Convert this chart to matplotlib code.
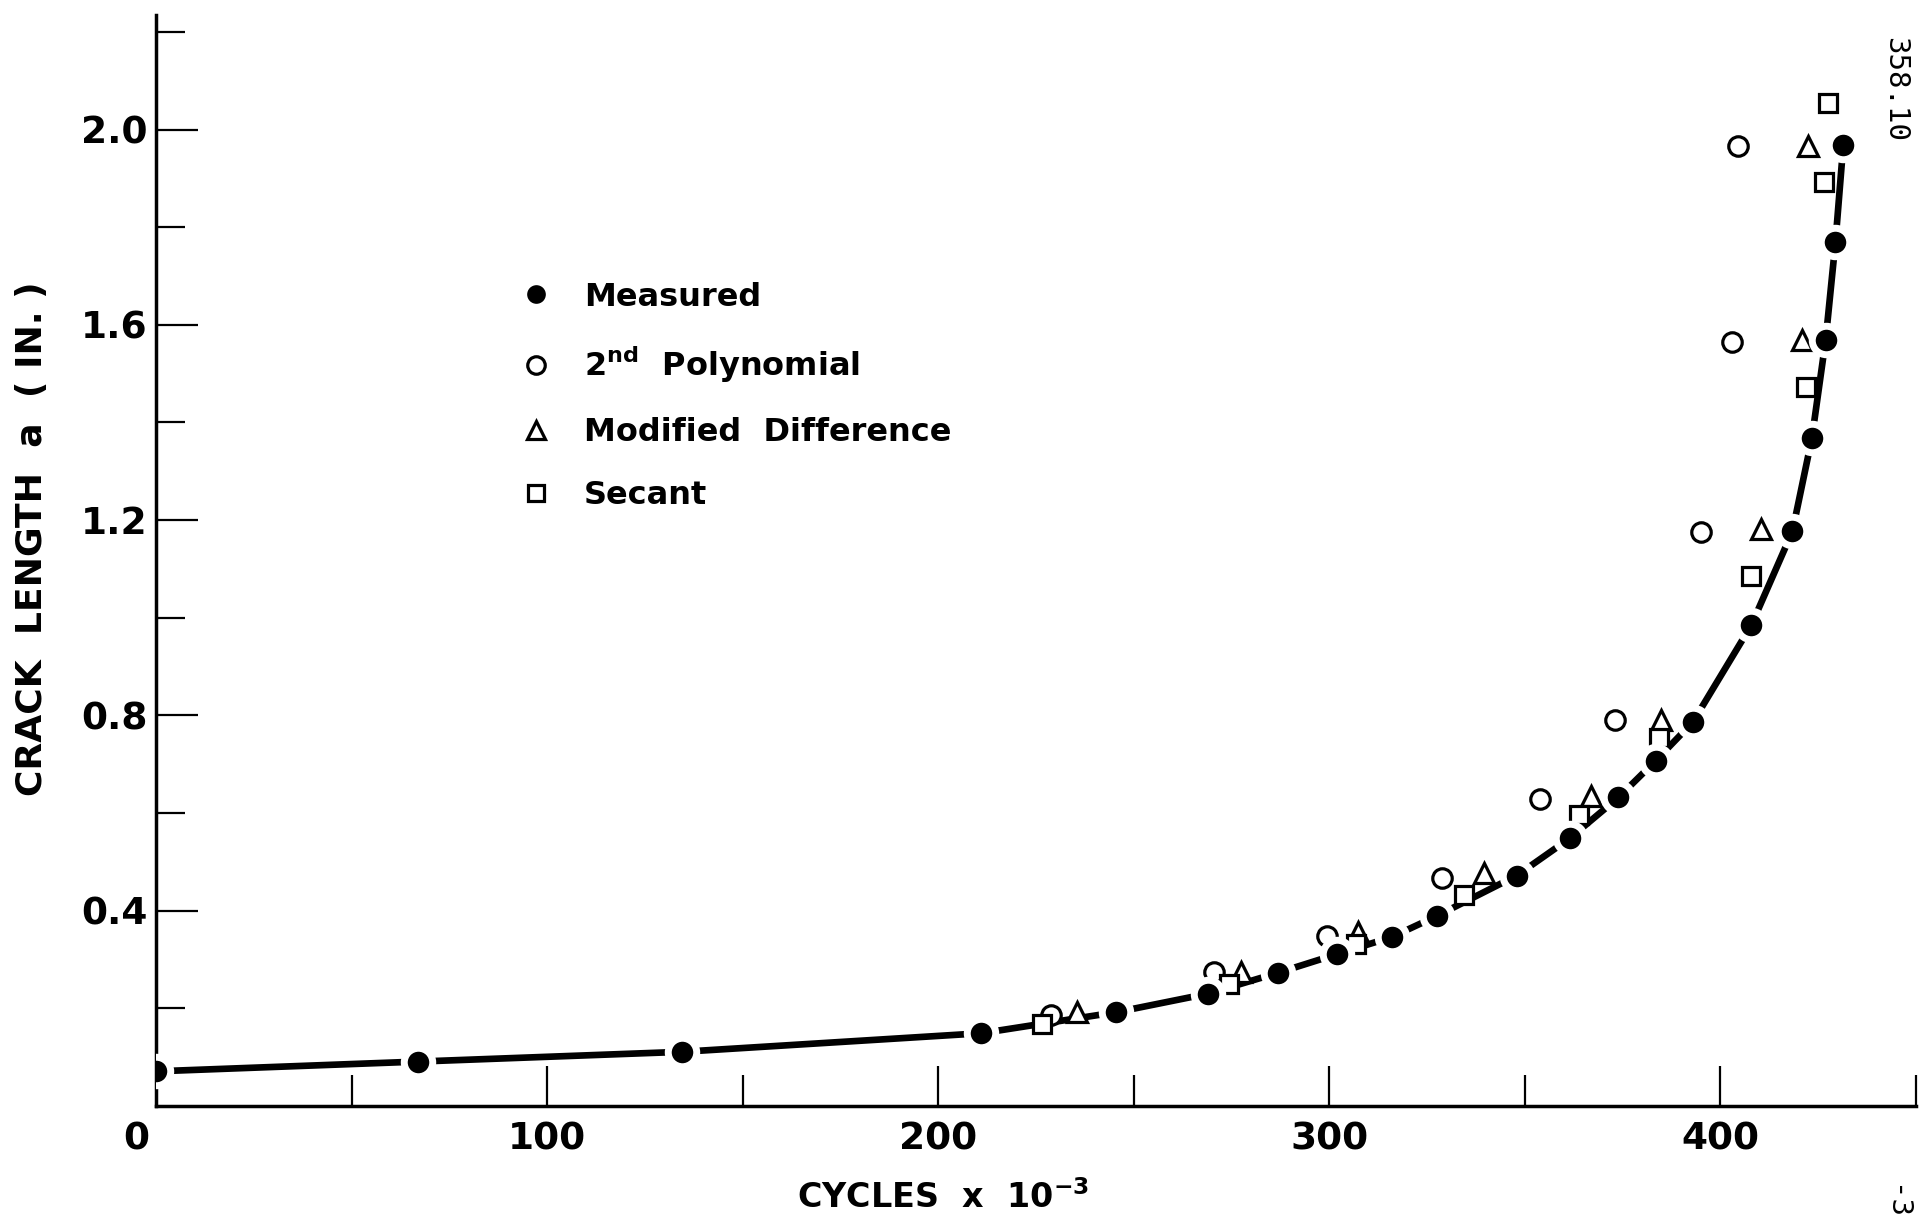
import matplotlib
matplotlib.use('Agg')
import matplotlib.pyplot as plt
from matplotlib.ticker import FixedLocator
from matplotlib.transforms import ScaledTranslation

# (cycles x 1e-3, crack length in.)
meas_x = [0, 67, 134.5, 211, 245.5, 269, 287, 302, 316, 327.5, 348, 361.5, 374, 383.5,
          393, 408, 418.5, 423.5, 427, 429.5, 431.5]
meas_y = [0.071, 0.091, 0.111, 0.149, 0.192, 0.230, 0.273, 0.311, 0.346, 0.389, 0.472,
          0.548, 0.632, 0.707, 0.786, 0.985, 1.177, 1.369, 1.569, 1.769, 1.968]

poly_x = [229, 270.5, 299.5, 329, 354, 373, 395, 403, 404.5]
poly_y = [0.187, 0.275, 0.349, 0.467, 0.629, 0.791, 1.175, 1.564, 1.966]

moddiff_x = [235.5, 277.5, 307.5, 339.5, 367, 385, 410.5, 421, 422.5]
moddiff_y = [0.192, 0.275, 0.356, 0.478, 0.634, 0.791, 1.182, 1.569, 1.966]

secant_x = [226.5, 274.5, 307, 334.5, 364, 384.5, 408, 422, 426.5, 427.5]
secant_y = [0.167, 0.250, 0.331, 0.432, 0.596, 0.753, 1.086, 1.473, 1.892, 2.054]

x_ticklabels = ['0', '100', '200', '300', '400']
y_ticklabels = ['0.4', '0.8', '1.2', '1.6', '2.0']

plt.rcParams['font.family'] = 'DejaVu Sans'
plt.rcParams['font.weight'] = 'bold'
plt.rcParams['axes.labelweight'] = 'bold'
plt.rcParams['mathtext.fontset'] = 'custom'
plt.rcParams['mathtext.rm'] = 'DejaVu Sans:bold'
plt.rcParams['mathtext.bf'] = 'DejaVu Sans:bold'

fig = plt.figure(figsize=(19.33, 12.24), dpi=100)
ax = fig.add_axes([0.0807, 0.0964, 0.9103, 0.8915])

# curve through measured points
ax.plot(meas_x, meas_y, color='black', lw=4.8, solid_capstyle='butt', zorder=2)

ax.plot(poly_x, poly_y, 'o', ms=14, mfc='white', mec='black', mew=2.3, zorder=3,
        label='2$^{\\rm nd}$  Polynomial')
ax.plot(moddiff_x, moddiff_y, '^', ms=15, mfc='white', mec='black', mew=2.3, zorder=3,
        label='Modified  Difference')
ax.plot(secant_x, secant_y, 's', ms=12.5, mfc='white', mec='black', mew=2.3, zorder=3,
        label='Secant')
ax.plot(meas_x, meas_y, 'o', ms=20.5, mfc='black', mec='white', mew=5, zorder=4,
        label='Measured')

ax.set_xlim(0, 450)
ax.set_ylim(0, 2.235)

ax.xaxis.set_major_locator(FixedLocator([0, 100, 200, 300, 400]))
ax.set_xticklabels(x_ticklabels)
ax.xaxis.set_minor_locator(FixedLocator([50, 150, 250, 350, 450]))
ax.yaxis.set_major_locator(FixedLocator([0.4, 0.8, 1.2, 1.6, 2.0]))
ax.set_yticklabels(y_ticklabels)
ax.yaxis.set_minor_locator(FixedLocator([0.2, 0.6, 1.0, 1.4, 1.8, 2.2]))

ax.tick_params(which='both', direction='in', width=1.6, labelsize=27, colors='black')
ax.tick_params(axis='x', which='major', length=29, pad=11)
ax.tick_params(axis='x', which='minor', length=22)
ax.tick_params(axis='y', which='major', length=30, pad=6)
ax.tick_params(axis='y', which='minor', length=21)
ax.xaxis.get_major_ticks()[0].tick1line.set_visible(False)
lab0 = ax.get_xticklabels()[0]
lab0.set_transform(lab0.get_transform() + ScaledTranslation(-0.2, 0, fig.dpi_scale_trans))

for s in ['top', 'right']:
    ax.spines[s].set_visible(False)
for s in ['left', 'bottom']:
    ax.spines[s].set_linewidth(2.5)

ax.set_xlabel('CYCLES  x  10$^{\\mathbf{-3}}$', fontsize=24, fontweight='bold')
ax.xaxis.set_label_coords(0.447, -0.068)
ax.set_ylabel('CRACK  LENGTH  a  ( IN. )', fontsize=26, fontweight='bold')
ax.yaxis.set_label_coords(-0.061, 0.52)

h, l = ax.get_legend_handles_labels()
order = [3, 0, 1, 2]
leg = ax.legend([h[i] for i in order], [l[i] for i in order], loc='upper left',
                bbox_to_anchor=(0.269, 0.770), bbox_transform=fig.transFigure,
                frameon=False, prop={'weight': 'bold', 'size': 23},
                handlelength=1.0, handletextpad=1.0, labelspacing=1.0,
                markerscale=0.9, borderpad=0, borderaxespad=0)

fig.text(0.9805, 0.97, '358.10', rotation=-90, fontsize=21, family='DejaVu Sans Mono',
         fontweight='normal', ha='center', va='top')
fig.text(0.9805, 0.003, '-3', rotation=-90, fontsize=21, family='DejaVu Sans Mono',
         fontweight='normal', ha='center', va='bottom')

fig.savefig('out.png', dpi=100)
